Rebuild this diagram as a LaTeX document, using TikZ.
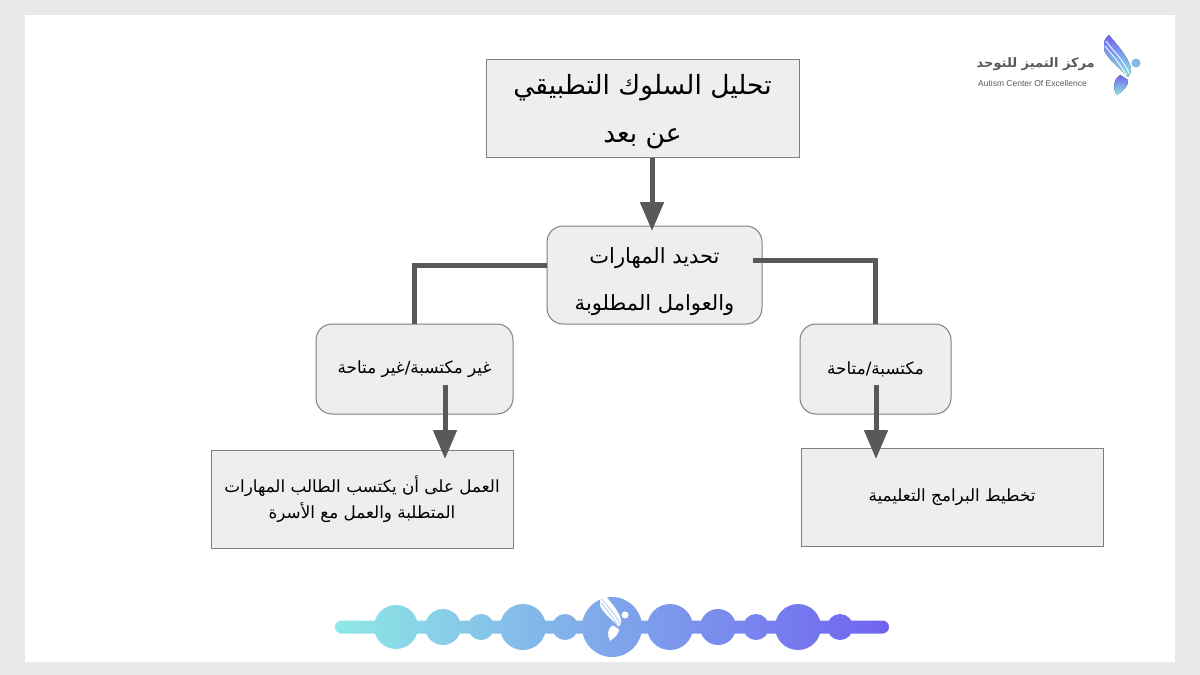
\documentclass[tikz,border=0pt]{standalone}
\usepackage{fontspec}
\usetikzlibrary{arrows.meta}
\TeXXeTstate=1
\newfontfamily\arabicfont[Script=Arabic]{DejaVu Sans}
\setmainfont{Liberation Sans}
\definecolor{boxfill}{HTML}{EEEEEE}
\definecolor{boxline}{HTML}{7F7F7F}
\definecolor{linkgray}{HTML}{595959}
\definecolor{pagegray}{HTML}{E9E9EB}
\definecolor{bandcyan}{HTML}{8EE8E6}
\definecolor{bandviolet}{HTML}{7063F0}
\definecolor{bandmid}{HTML}{7AA6EA}
\tikzset{
  sqbox/.style={draw=boxline,fill=boxfill,line width=1pt,align=center,inner sep=0pt,text=black},
  rdbox/.style={sqbox,rounded corners=16pt},
  link/.style={draw=linkgray,line width=5pt},
  arrowlink/.style={link,-{Triangle[length=29pt,width=23pt]}},
  wingstripe/.style={white},
  wing/.pic={
    \fill[pic actions] (0,0) .. controls (8,10) and (18,20) .. (22,33)
      .. controls (22,37) .. (19,42) .. controls (12,34) and (0,26) .. (-5,15)
      -- (-5,8) .. controls (-4,4) .. (0,0);
    \fill[pic actions] (11,40) .. controls (5,44) and (3,53) .. (8,60)
      .. controls (14,56) and (20,50) .. (19,45) -- cycle;
    \draw[wingstripe,line width=0.8pt] (-3,6) .. controls (4,16) and (14,24) .. (20,38);
    \draw[wingstripe,line width=0.8pt] (-4,11) .. controls (3,20) and (11,28) .. (17,40);
  }
}
\begin{document}
\begin{tikzpicture}[x=1pt,y=-1pt]
    % Page and slide
    \fill[pagegray] (0,0) rectangle (1200,675);
    \fill[white] (25,15) rectangle (1175,662);
    \useasboundingbox (0,0) rectangle (1200,675);

    % Boxes
    \node[sqbox,minimum width=313pt,minimum height=98pt,text height=76pt,font=\arabicfont\fontsize{26.5}{48}\selectfont] (title) at (642.5,108)
      {\beginR تحليل السلوك التطبيقي\endR\\\beginR عن بعد\endR};
    \node[rdbox,minimum width=215pt,minimum height=98pt,text height=76pt,font=\arabicfont\fontsize{21}{47}\selectfont] (skills) at (654.5,275)
      {\beginR تحديد المهارات\endR\\\beginR والعوامل المطلوبة\endR};
    \node[rdbox,minimum width=197pt,minimum height=90pt,font=\arabicfont\fontsize{16.8}{20}\selectfont] (missing) at (414.5,369)
      {\beginR غير مكتسبة/غير متاحة\endR};
    \node[rdbox,minimum width=151pt,minimum height=90pt,font=\arabicfont\fontsize{16.8}{20}\selectfont] (available) at (875.5,369)
      {\beginR مكتسبة/متاحة\endR};
    \node[sqbox,minimum width=302pt,minimum height=98pt,font=\arabicfont\fontsize{16.8}{26}\selectfont] (family) at (362,499)
      {\beginR العمل على أن يكتسب الطالب المهارات\endR\\\beginR المتطلبة والعمل مع الأسرة\endR};
    \node[sqbox,minimum width=302pt,minimum height=98pt,font=\arabicfont\fontsize{16.8}{20}\selectfont] (plans) at (952,497)
      {\beginR تخطيط البرامج التعليمية\endR};

    % Connectors
    \draw[arrowlink] (title.south -| 652,0) -- (652,231);
    \draw[link] ([yshift=10pt]skills.west) -| (missing.north);
    \draw[link] ([xshift=-10pt,yshift=15pt]skills.east) -| (available.north);
    \coordinate (missingfoot) at (445,385);
    \coordinate (availablefoot) at (876,385);
    \draw[arrowlink] (missingfoot) -- (445,459);
    \draw[arrowlink] (availablefoot) -- (876,459);

    % Logo, top right
    \pic[top color=bandviolet,bottom color=bandcyan] at (1109,35) {wing};
    \fill[bandmid!70!bandcyan] (1136,63) circle (4.5);
    \node[text=black!65,anchor=east,inner sep=0pt,font=\arabicfont\bfseries\fontsize{13}{15}\selectfont] (logoname) at (1095,64)
      {\beginR مركز التميز للتوحد\endR};
    \node[text=black!65,anchor=east,inner sep=0pt,font=\fontsize{8.5}{10}\selectfont] (logosub) at (1087,83)
      {Autism Center Of Excellence};

    % Band with circles, bottom
    \shade[left color=bandcyan,middle color=bandmid,right color=bandviolet]
      (341.5,633.5) rectangle (882.5,620.5)
      \foreach \x/\r in {341.5/6.5,396/22,443/18,481/13,523/23,565/13,612/30,670/23,718/18,756/13,798/23,840/13,882.5/6.5}
        { (\x,627) circle (\r) };

    % White wing on the middle circle
    \pic[fill=white,scale=0.78,wingstripe/.style={bandmid!60!white}] at (604,594) {wing};
    \fill[white] (625,615) circle (3.5);
\end{tikzpicture}
\end{document}
